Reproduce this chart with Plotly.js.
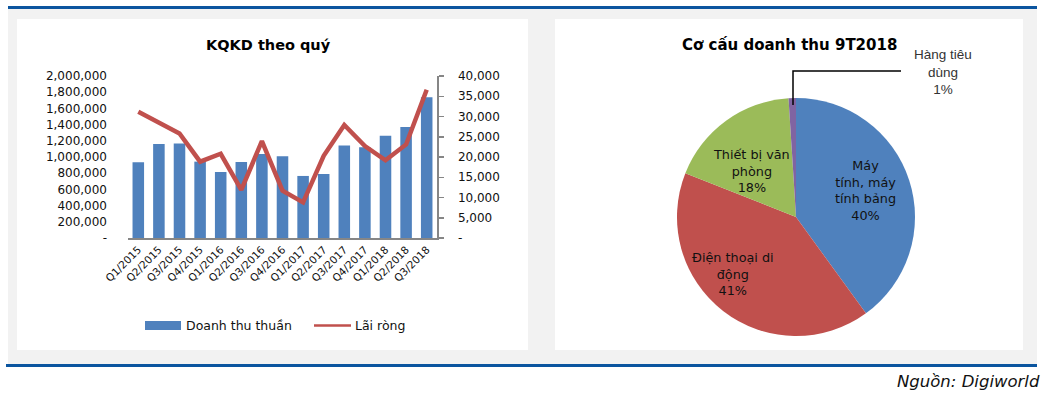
<!DOCTYPE html>
<html><head><meta charset="utf-8">
<script src="https://cdn.plot.ly/plotly-3.0.1.min.js"></script>
<style>html,body{margin:0;padding:0;background:#fff}</style>
</head><body><div id="chart" style="width:1054px;height:396px"></div>
<script>
// ---- data ----
const quarters = ['Q1/2015','Q2/2015','Q3/2015','Q4/2015','Q1/2016','Q2/2016','Q3/2016','Q4/2016','Q1/2017','Q2/2017','Q3/2017','Q4/2017','Q1/2018','Q2/2018','Q3/2018'];
const revenue = [934000,1160000,1168000,943000,815000,938000,1037000,1008000,766000,791000,1143000,1119000,1262000,1369000,1738000];
const netProfit = [31150,28500,25800,18850,20800,11900,23900,11700,8800,20300,27900,22700,19200,23100,36600];
const leftTickVals = [0,200000,400000,600000,800000,1000000,1200000,1400000,1600000,1800000,2000000];
const leftTickText = ['-','200,000','400,000','600,000','800,000','1,000,000','1,200,000','1,400,000','1,600,000','1,800,000','2,000,000'];
const rightTickVals = [0,5000,10000,15000,20000,25000,30000,35000,40000];
const rightTickText = ['-','5,000','10,000','15,000','20,000','25,000','30,000','35,000','40,000'];
const seriesNames = ['Doanh thu thuần','Lãi ròng'];

const pieLabels = ['Máy tính, máy tính bảng','Điện thoại di động','Thiết bị văn phòng','Hàng tiêu dùng'];
const pieLabelLines = ['Máy<br>tính, máy<br>tính bảng','Điện thoại di<br>động','Thiết bị văn<br>phòng','Hàng tiêu<br>dùng'];
const pieValues = [40,41,18,1];

const title1 = 'KQKD theo quý';
const title2 = 'Cơ cấu doanh thu 9T2018';
const sourceText = 'Nguồn: Digiworld';

// ---- helpers: pixel -> paper ----
const W = 1054, H = 396;
const px = v => v / W;
const py = v => 1 - v / H;

const BLUE = '#4F81BD', RED = '#C0504D', GREEN = '#9BBB59', PURPLE = '#8064A2';
const FONT = 'DejaVu Sans, Verdana, sans-serif';

const traces = [
  {type:'bar', x: quarters, y: revenue, name: seriesNames[0], marker:{color:BLUE}, xaxis:'x', yaxis:'y', showlegend:false},
  {type:'scatter', mode:'lines', x: quarters, y: netProfit, name: seriesNames[1], line:{color:RED, width:4.5}, xaxis:'x', yaxis:'y2', showlegend:false},
  {type:'pie', labels: pieLabels, values: pieValues, sort:false, direction:'clockwise', rotation:0,
   marker:{colors:[BLUE,RED,GREEN,PURPLE], line:{width:0}}, textinfo:'none', showlegend:false,
   domain:{x:[px(677),px(915)], y:[py(336),py(98)]}}
];

const total = pieValues.reduce((a,b)=>a+b,0);
const pct = pieValues.map(v => Math.round(v/total*100) + '%');
const pieLabelPos = [[865,190],[733,274],[751,171],[943,72]];
const pieAnn = pieLabelLines.map((t,i) => ({
  xref:'paper', yref:'paper', x: px(pieLabelPos[i][0]), y: py(pieLabelPos[i][1]),
  xanchor:'center', yanchor:'middle', showarrow:false,
  text: t + '<br>' + pct[i],
  font: i===3 ? {family:'Liberation Sans, Arial, sans-serif', size:13.5, color:'#333'} : {family:FONT, size:12.8, color:'#111'}
}));

const rect = (x0,y0,x1,y1,color,layer) => ({type:'rect', xref:'paper', yref:'paper', x0:px(x0), x1:px(x1), y0:py(y1), y1:py(y0), fillcolor:color, line:{width:0}, layer:layer||'below'});

// custom legend (wide swatch like the original)
const legendShapes = [
  rect(145,321,181,330,BLUE,'above'),
  {type:'line', xref:'paper', yref:'paper', x0:px(314), x1:px(351), y0:py(325.5), y1:py(325.5), line:{color:RED, width:2.5}, layer:'above'}
];
const legendAnn = [
  {xref:'paper', yref:'paper', x:px(184), y:py(325.5), xanchor:'left', yanchor:'middle', showarrow:false, text:seriesNames[0], font:{family:FONT, size:12.5, color:'#111'}},
  {xref:'paper', yref:'paper', x:px(353), y:py(325.5), xanchor:'left', yanchor:'middle', showarrow:false, text:seriesNames[1], font:{family:FONT, size:12.5, color:'#111'}}
];

const layout = {
  width: W, height: H, autosize:false,
  margin:{l:0,r:0,t:0,b:0},
  paper_bgcolor:'#ffffff', plot_bgcolor:'rgba(0,0,0,0)',
  font:{family:FONT, color:'#111'},
  bargap: 0.44,
  showlegend: false,
  xaxis:{domain:[px(128),px(437)], anchor:'y', showline:true, linecolor:'#868686', linewidth:1.5, ticks:'', tickangle:-45, tickfont:{family:FONT, size:10.5, color:'#111'}, showgrid:false, zeroline:false, fixedrange:true},
  yaxis:{domain:[py(238),py(76)], range:[0,2000000], tickmode:'array', tickvals:leftTickVals, ticktext:leftTickText, showline:false, showgrid:false, zeroline:false, ticks:'', ticklabelstandoff:20, tickfont:{family:FONT, size:12, color:'#111'}, fixedrange:true},
  yaxis2:{overlaying:'y', side:'right', anchor:'x', range:[0,40000], tickmode:'array', tickvals:rightTickVals, ticktext:rightTickText, showline:true, linecolor:'#868686', linewidth:1.5, ticks:'outside', ticklen:5, tickcolor:'#868686', tickwidth:1.5, ticklabelstandoff:12, showgrid:false, zeroline:false, tickfont:{family:FONT, size:12, color:'#111'}, fixedrange:true},
  shapes:[
    rect(8,9,1037,364,'#F2F2F2'),
    rect(17,19,528,350,'#FFFFFF'),
    rect(555,19,1023,350,'#FFFFFF'),
    rect(8,6,1037,9,'#0B559F'),
    rect(6,364,1037,367,'#0B559F'),
    {type:'path', xref:'paper', yref:'paper', path:`M ${px(901)} ${py(71)} L ${px(793)} ${py(71)} L ${px(793)} ${py(105)}`, line:{color:'#000', width:1.5}, layer:'above'},
    ...legendShapes
  ],
  annotations:[
    {xref:'paper', yref:'paper', x:px(268), y:py(45), xanchor:'center', yanchor:'middle', showarrow:false, text:'<b>'+title1+'</b>', font:{family:FONT, size:14.5, color:'#000'}},
    {xref:'paper', yref:'paper', x:px(789), y:py(45), xanchor:'center', yanchor:'middle', showarrow:false, text:'<b>'+title2+'</b>', font:{family:FONT, size:15, color:'#000'}},
    {xref:'paper', yref:'paper', x:px(1042), y:py(381), xanchor:'right', yanchor:'middle', showarrow:false, text:'<i>'+sourceText+'</i>', font:{family:FONT, size:16.5, color:'#111'}},
    ...legendAnn,
    ...pieAnn
  ]
};

Plotly.newPlot('chart', traces, layout, {displayModeBar:false, staticPlot:true});
</script></body></html>
